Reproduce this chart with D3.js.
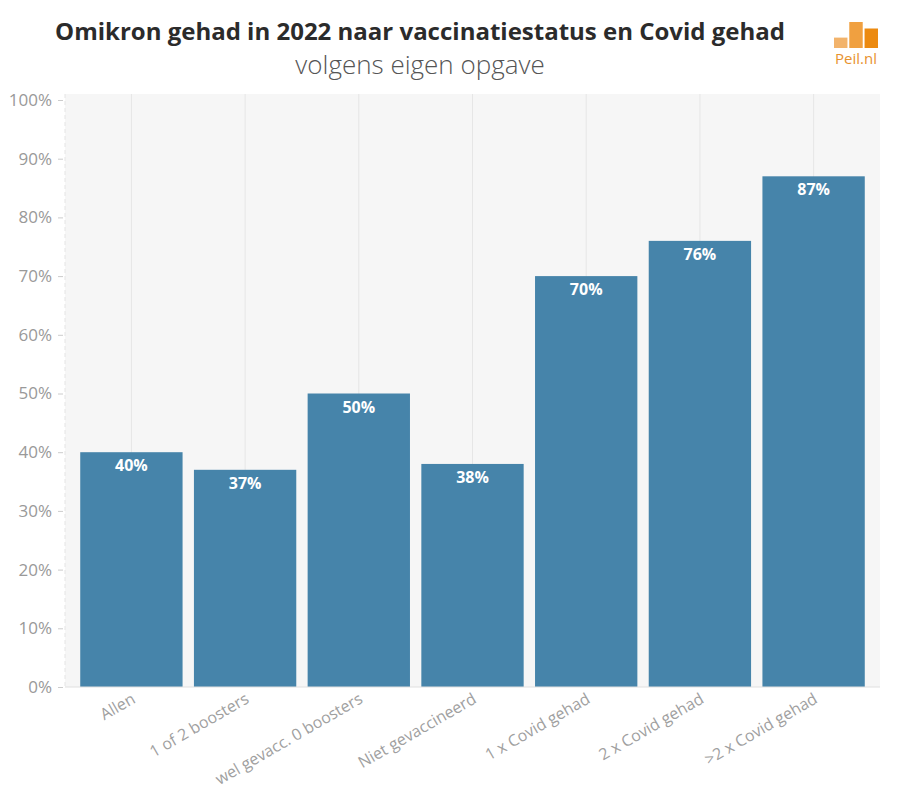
<!DOCTYPE html>
<html>
<head>
<meta charset="utf-8">
<script src="https://cdn.jsdelivr.net/npm/d3@7"></script>
<style>
  body { margin: 0; background: #fff; }
  svg { font-family: "Open Sans", "Noto Sans", sans-serif; }
</style>
</head>
<body>
<div id="chart"></div>
<script>
const categories = ["Allen", "1 of 2 boosters", "wel gevacc. 0 boosters", "Niet gevaccineerd", "1 x Covid gehad", "2 x Covid gehad", ">2 x Covid gehad"];
const values = [40, 37, 50, 38, 70, 76, 87];
const yTicks = [0, 10, 20, 30, 40, 50, 60, 70, 80, 90, 100];
const logoBars = [0.4, 1, 0.75];

const W = 902, H = 796;
const plot = {left: 65, right: 880, top: 94, bottom: 687};

const svg = d3.select("#chart").append("svg")
  .attr("width", W).attr("height", H);

// title
svg.append("text")
  .attr("x", 420).attr("y", 40)
  .attr("text-anchor", "middle")
  .style("font-size", "24px").style("font-weight", "bold")
  .style("fill", "#2b2b2b")
  .text("Omikron gehad in 2022 naar vaccinatiestatus en Covid gehad");
svg.append("text")
  .attr("x", 420).attr("y", 74)
  .attr("text-anchor", "middle")
  .style("font-size", "26px").style("font-weight", "300")
  .style("fill", "#555")
  .text("volgens eigen opgave");

// logo
const logo = svg.append("g").attr("transform", "translate(834,22)");
const lx = d3.scaleBand().domain(d3.range(logoBars.length)).range([0, 44]).paddingInner(0.12);
const ly = d3.scaleLinear().domain([0, 1]).range([26, 0]);
logo.selectAll("rect").data(logoBars).enter().append("rect")
  .attr("x", (d, i) => lx(i)).attr("width", lx.bandwidth())
  .attr("y", d => ly(d)).attr("height", d => 26 - ly(d))
  .attr("fill", (d, i) => ["#f2b36b", "#f0a040", "#ec8a10"][i]);
logo.append("text").attr("x", 22).attr("y", 42)
  .attr("text-anchor", "middle")
  .style("font-size", "15px").style("fill", "#e8922e")
  .text("Peil.nl");

// scales
const x = d3.scaleBand().domain(categories)
  .range([plot.left, plot.right]).paddingInner(0.1).paddingOuter(0.134);
const y = d3.scaleLinear().domain([0, 100]).range([plot.bottom, 100]);

// background
svg.append("rect")
  .attr("x", plot.left).attr("y", plot.top)
  .attr("width", plot.right - plot.left).attr("height", plot.bottom - plot.top)
  .attr("fill", "#f6f6f6");

// vertical grid at band centres
svg.append("g").selectAll("line").data(categories).enter().append("line")
  .attr("x1", d => x(d) + x.bandwidth() / 2).attr("x2", d => x(d) + x.bandwidth() / 2)
  .attr("y1", plot.top).attr("y2", plot.bottom)
  .attr("stroke", "#e6e6e6").attr("stroke-width", 1);

// left axis line (faint dashed)
svg.append("line")
  .attr("x1", plot.left).attr("x2", plot.left)
  .attr("y1", plot.top).attr("y2", plot.bottom)
  .attr("stroke", "#e4e4e4").attr("stroke-dasharray", "4,3");

// y axis
const yAxis = svg.append("g")
  .attr("transform", `translate(${plot.left - 2},0)`)
  .call(d3.axisLeft(y).tickValues(yTicks).tickFormat(d => d + "%").tickSize(5).tickPadding(6));
yAxis.select(".domain").remove();
yAxis.selectAll(".tick line").attr("stroke", "#ccc");
yAxis.selectAll(".tick text")
  .style("font-size", "17px").style("fill", "#999").style("font-family", "'Open Sans', sans-serif");

// bars
svg.append("g").selectAll("rect").data(values).enter().append("rect")
  .attr("x", (d, i) => x(categories[i]))
  .attr("width", x.bandwidth())
  .attr("y", d => y(d))
  .attr("height", d => y(0) - y(d))
  .attr("fill", "#4684aa");

// bar labels
svg.append("g").selectAll("text").data(values).enter().append("text")
  .attr("x", (d, i) => x(categories[i]) + x.bandwidth() / 2)
  .attr("y", d => y(d) + 19)
  .attr("text-anchor", "middle")
  .style("font-size", "16px").style("font-weight", "bold").style("fill", "#fff")
  .text(d => d + "%");

// x axis line
svg.append("line")
  .attr("x1", plot.left).attr("x2", plot.right)
  .attr("y1", plot.bottom).attr("y2", plot.bottom)
  .attr("stroke", "#e0e0e0");

// x labels
svg.append("g").selectAll("text").data(categories).enter().append("text")
  .attr("transform", d => `translate(${x(d) + x.bandwidth() / 2 + 5},${plot.bottom + 15}) rotate(-30)`)
  .attr("text-anchor", "end")
  .style("font-size", "16px").style("fill", "#a0a0a0")
  .text(d => d);
</script>
</body>
</html>
